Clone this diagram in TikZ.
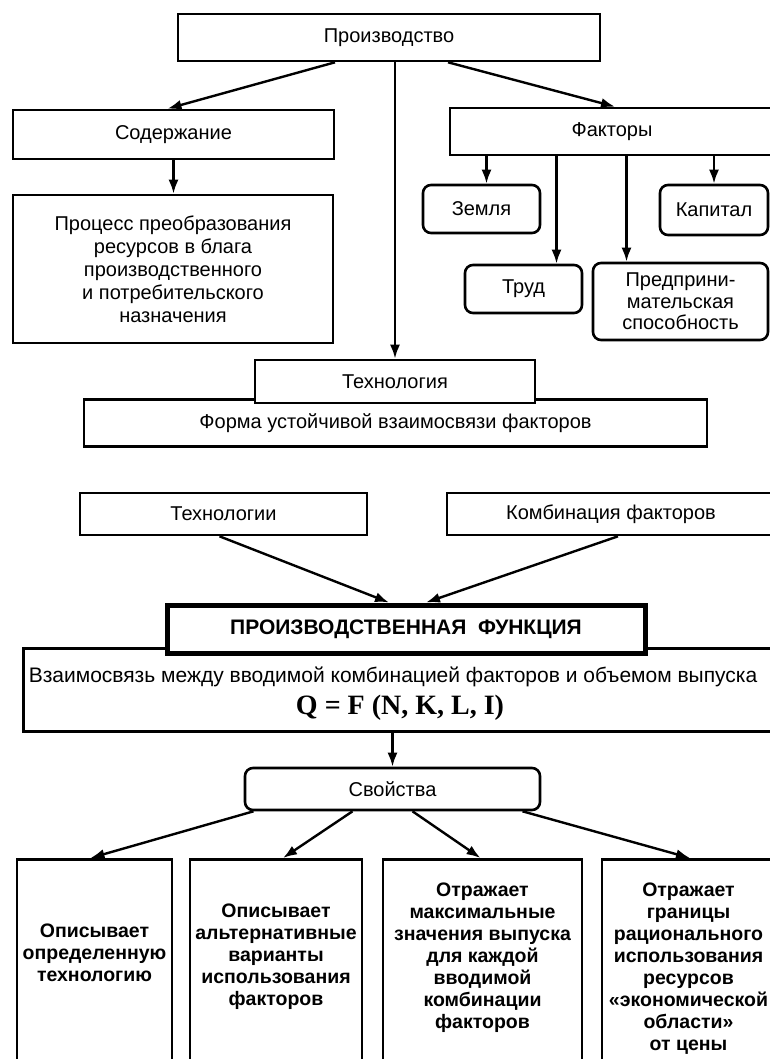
\documentclass[tikz,border=0pt]{standalone}
\usepackage{fontspec}
\setmainfont{Liberation Sans}
\newfontfamily\qfont{Liberation Serif}
\usetikzlibrary{arrows.meta}

\begin{document}
\begin{tikzpicture}[x=1pt,y=-1pt,
  box/.style={draw,line width=2.6pt,fill=white,inner sep=0pt,align=center,font=\fontsize{20}{23}\selectfont},
  rbox/.style={box,rounded corners=8pt},
  colbox/.style={draw,line width=2.6pt,fill=white,inner sep=0pt,anchor=north},
  coltxt/.style={align=center,inner sep=0pt,font=\bfseries\fontsize{19.5}{22}\selectfont},
  arr/.style={line width=2.4pt,-{Latex[length=14pt,width=10pt]}}]
\fill[white] (0,0) rectangle (770,1059);
\useasboundingbox (0,0) rectangle (770,1059);
\clip (0,0) rectangle (770,1059);
% upper part
\node[box,minimum width=422pt,minimum height=47pt] (prod) at (389,37.5) {Производство};
\node[box,minimum width=321pt,minimum height=49pt] (sod) at (173.5,134.5) {Содержание};
\node[box,minimum width=320pt,minimum height=148pt] (proc) at (173,269) {Процесс преобразования\\ресурсов в блага\\производственного\\и потребительского\\назначения};
\node[box,minimum width=324pt,minimum height=47pt] (fakt) at (612,131.5) {Факторы};
\node[rbox,minimum width=117pt,minimum height=48pt] (zem) at (481.5,209) {Земля};
\node[rbox,minimum width=108pt,minimum height=50pt] (kap) at (714,210) {Капитал};
\node[rbox,minimum width=117pt,minimum height=48pt] (trud) at (523.5,289) {Труд};
\node[rbox,minimum width=175pt,minimum height=77pt,font=\fontsize{20}{21.5}\selectfont] (pred) at (680.5,301.5) {Предприни-\\мательская\\способность};
\node[box,minimum width=623pt,minimum height=47pt] (form) at (395.5,423) {Форма устойчивой взаимосвязи факторов};
\node[box,minimum width=280pt,minimum height=43pt] (tech) at (395,381.5) {Технология};
\coordinate (zx) at ([xshift=5pt]zem.north);
\coordinate (tx) at ([xshift=33pt]trud.north);
\coordinate (px) at ([xshift=-54pt]pred.north);
\draw[arr] ([xshift=-54pt]prod.south) -- ([xshift=-6pt]sod.north);
\draw[arr] ([xshift=59pt]prod.south) -- ([xshift=3pt]fakt.north);
\draw[arr] (prod.south -| tech.north) -- (tech.north);
\draw[arr] (sod.south) -- (sod.south |- proc.north);
\draw[arr] (fakt.south -| zx) -- (zx);
\draw[arr] (fakt.south -| tx) -- (tx);
\draw[arr] (fakt.south -| px) -- (px);
\draw[arr] (fakt.south -| kap.north) -- (kap.north);
% production function
\node[box,minimum width=287pt,minimum height=42pt] (tehi) at (223.5,514) {Технологии};
\node[box,minimum width=328pt,minimum height=42pt] (komb) at (611,514) {Комбинация факторов};
\node[box,minimum width=760pt,minimum height=83pt,anchor=north west] (vz) at (22,647) {};
\node (vzt) at (393,677) {\fontsize{21}{24}\selectfont Взаимосвязь между вводимой комбинацией факторов и объемом выпуска};
\node (vzq) at (400,708) {\qfont\bfseries\fontsize{28}{30}\selectfont Q = F (N, K, L, I)};
\node[box,line width=5pt,minimum width=478pt,minimum height=48pt,font=\bfseries\fontsize{21}{23}\selectfont] (pf) at (406,629) {ПРОИЗВОДСТВЕННАЯ\ \ ФУНКЦИЯ};
\draw[arr] ([xshift=-4pt]tehi.south) -- ([xshift=-17pt]pf.north);
\draw[arr] ([xshift=7pt]komb.south) -- ([xshift=20pt]pf.north);
% properties
\node[rbox,minimum width=295pt,minimum height=42pt] (svo) at (392.5,789) {Свойства};
\draw[arr] (vz.south -| svo.north) -- (svo.north);
\node[colbox,minimum width=155pt,minimum height=240pt] (b1) at (94.5,858) {};
\node[colbox,minimum width=172pt,minimum height=240pt] (b2) at (276,858) {};
\node[colbox,minimum width=199pt,minimum height=240pt] (b3) at (482.5,858) {};
\node[colbox,minimum width=176pt,minimum height=240pt] (b4) at (690,858) {};
\node[coltxt] (t1) at (94.5,953) {Описывает\\определенную\\технологию};
\node[coltxt] (t2) at (276,957) {Описывает\\альтернативные\\варианты\\использования\\факторов};
\node[coltxt] (t3) at (482.5,958) {Отражает\\максимальные\\значения выпуска\\для каждой\\вводимой\\комбинации\\факторов};
\node[coltxt] (t4) at (688.5,969) {Отражает\\границы\\рационального\\использования\\ресурсов\\«экономической\\области»\\от цены};
\draw[arr] ([xshift=-139pt]svo.south) -- ([xshift=-4pt]b1.north);
\draw[arr] ([xshift=-40pt]svo.south) -- ([xshift=7pt]b2.north);
\draw[arr] ([xshift=20pt]svo.south) -- ([xshift=-2pt]b3.north);
\draw[arr] ([xshift=130pt]svo.south) -- (b4.north);
\end{tikzpicture}
\end{document}
